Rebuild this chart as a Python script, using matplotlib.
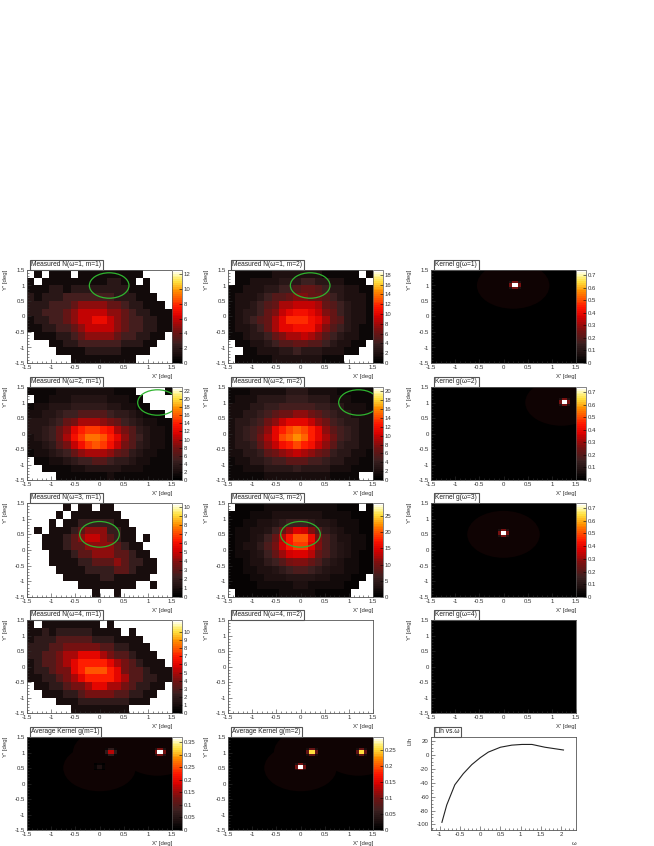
import matplotlib
matplotlib.use("Agg")
import matplotlib.pyplot as plt
from matplotlib.colors import LinearSegmentedColormap
from matplotlib.patches import Circle
from matplotlib.ticker import MultipleLocator
import numpy as np

plt.rcParams['font.family'] = ['Liberation Sans', 'DejaVu Sans']

# coarse counts, top row is y=+1.5, first column x=-1.5
n_1_1 = [
    [0,1,0,1,1,1,0,1,1,1,1,1,1,1,1,1,0,0,0,0],
    [1,0,1,1,1,1,1,1,1,1,1,2,2,1,1,0,1,0,0,0],
    [1,1,1,2,2,1,2,2,2,2,2,2,2,2,1,1,1,0,0,0],
    [2,1,2,2,2,3,3,3,3,3,3,3,2,2,2,1,1,1,0,0],
    [2,2,2,3,3,3,4,5,5,5,5,4,4,3,2,2,1,1,1,0],
    [2,2,3,3,3,4,5,6,6,6,6,5,5,4,3,2,2,1,1,1],
    [1,2,2,3,3,4,5,6,6,7,7,6,5,4,3,3,2,2,1,1],
    [1,1,2,2,3,3,4,5,6,6,6,6,5,4,3,3,2,2,1,1],
    [0,1,1,1,2,2,3,4,5,5,5,5,4,3,3,2,2,1,1,0],
    [0,0,0,1,1,2,2,3,3,3,3,3,3,2,2,2,1,1,0,0],
    [0,0,0,0,1,1,1,1,2,2,2,2,2,1,1,1,1,0,0,0],
    [0,0,0,0,0,0,1,1,1,1,1,1,1,1,1,0,0,0,0,0],
]
n_1_2 = [
    [0,1,1,1,1,1,2,2,2,2,2,2,2,1,1,1,1,1,0,1],
    [0,1,1,2,2,2,2,3,3,3,4,4,3,3,2,2,1,1,1,0],
    [1,1,2,2,2,3,3,4,4,5,6,6,5,4,3,3,2,2,1,1],
    [1,2,2,2,3,4,5,5,6,7,7,6,6,5,4,3,2,2,2,1],
    [1,2,2,3,4,5,6,8,8,9,9,9,8,6,5,4,3,2,2,1],
    [1,2,3,3,4,6,7,9,10,11,11,10,9,7,6,4,3,2,2,1],
    [1,2,3,4,5,6,8,10,12,12,12,11,10,8,6,5,3,2,2,1],
    [1,2,2,3,4,6,8,10,10,11,11,11,9,7,5,4,3,2,1,1],
    [1,1,2,3,3,4,6,7,8,8,9,8,7,5,4,3,2,2,1,1],
    [0,1,1,2,2,3,4,5,5,6,6,5,5,4,3,2,2,1,1,0],
    [0,0,1,1,2,2,2,3,3,4,3,3,3,2,2,2,1,1,0,0],
    [0,1,1,1,1,1,2,2,2,2,2,2,2,1,1,1,0,0,0,0],
]
n_2_1 = [
    [1,1,1,1,2,2,2,2,2,2,2,2,1,1,1,0,0,0,0,1],
    [0,1,1,2,2,2,3,3,3,3,3,2,2,2,1,1,0,0,0,0],
    [1,2,2,3,3,3,4,4,4,4,4,3,3,2,2,1,1,0,0,0],
    [2,2,3,3,4,5,5,6,6,6,6,5,4,4,3,2,1,1,1,0],
    [3,3,3,4,5,7,8,10,10,10,9,8,7,5,4,3,2,2,1,1],
    [3,3,4,5,7,9,12,14,15,15,14,13,10,8,6,4,3,2,2,1],
    [2,3,4,5,7,10,13,15,17,17,16,14,12,9,6,5,3,2,2,1],
    [2,2,3,4,6,8,11,13,15,16,15,13,11,8,6,4,3,2,2,1],
    [1,2,2,3,4,5,7,9,10,10,10,9,7,6,4,3,2,2,1,1],
    [0,1,1,2,2,3,4,5,5,6,6,5,4,4,3,2,2,1,1,1],
    [0,0,1,1,1,1,2,2,3,3,3,3,3,2,2,2,1,1,1,1],
    [0,0,0,0,1,1,1,1,1,1,1,2,1,1,1,1,1,1,1,1],
]
n_2_2 = [
    [1,1,1,2,2,2,2,2,3,3,3,2,2,2,2,1,1,1,1,1],
    [1,2,2,2,3,3,3,3,4,4,4,3,3,3,2,2,2,1,1,1],
    [2,2,2,3,3,4,4,5,5,5,5,5,4,4,3,3,2,2,2,1],
    [2,2,3,3,4,5,6,7,7,8,8,7,6,5,4,3,3,2,2,2],
    [2,3,3,4,5,7,8,10,11,11,11,10,8,7,5,4,3,3,2,2],
    [2,3,4,5,6,8,11,13,14,15,14,13,11,8,6,5,4,3,2,2],
    [2,3,4,5,7,9,11,14,15,16,15,13,11,9,7,5,4,3,2,2],
    [2,3,3,4,6,8,10,12,13,14,13,12,10,8,6,4,3,3,2,2],
    [2,2,3,3,4,6,7,8,9,10,9,8,7,6,4,3,3,2,2,1],
    [1,2,2,3,3,4,5,5,6,6,6,5,5,4,3,3,2,2,1,1],
    [1,1,2,2,2,3,3,3,3,4,3,3,3,3,2,2,2,1,1,1],
    [1,1,1,1,1,2,2,2,2,2,2,2,2,2,1,1,1,1,0,0],
]
n_3_1 = [
    [0,0,0,0,0,1,0,1,1,0,1,1,0,0,0,0,0,0,0,0],
    [0,0,0,0,1,0,1,1,1,1,1,1,1,0,0,0,0,0,0,0],
    [0,0,0,1,0,1,1,2,2,2,2,2,1,1,0,0,0,0,0,0],
    [0,1,0,1,1,1,2,3,4,4,4,2,2,1,1,0,0,0,0,0],
    [0,0,1,1,1,2,3,4,5,5,4,3,2,1,1,0,1,0,0,0],
    [0,0,1,1,1,2,3,3,4,4,4,4,3,2,1,1,0,0,0,0],
    [0,0,0,1,1,1,2,3,3,4,4,4,3,3,2,1,1,0,0,0],
    [0,0,0,1,1,1,1,2,2,3,3,3,4,3,2,2,1,1,0,0],
    [0,0,0,0,1,1,1,1,2,2,2,2,3,3,2,1,1,1,0,0],
    [0,0,0,0,0,1,1,1,1,1,2,2,1,1,1,1,1,0,0,0],
    [0,0,0,0,0,0,0,1,1,1,1,1,1,1,1,0,0,1,0,0],
    [0,0,0,0,0,0,0,0,0,1,0,0,1,0,0,0,0,0,0,0],
]
n_3_2 = [
    [0,1,1,1,1,2,2,2,2,2,2,2,2,2,2,1,1,1,0,1],
    [1,1,1,2,2,2,3,3,3,3,3,3,3,2,2,2,2,1,1,1],
    [1,1,2,2,3,3,4,5,6,6,6,5,4,4,3,2,2,2,1,1],
    [1,2,2,3,3,4,6,9,12,15,14,11,7,5,4,3,2,2,1,1],
    [1,2,2,3,4,6,9,13,17,20,20,16,10,7,5,3,3,2,2,1],
    [1,2,3,3,5,7,10,14,17,19,19,15,11,7,5,4,3,2,2,1],
    [1,2,2,3,4,6,9,12,14,15,15,13,9,7,5,4,3,2,1,1],
    [1,1,2,3,3,5,6,8,10,11,11,9,7,5,4,3,2,2,1,1],
    [1,1,2,2,3,3,4,5,6,7,7,6,5,4,3,3,2,2,1,1],
    [1,1,1,2,2,3,3,3,4,4,4,4,3,3,2,2,2,1,1,0],
    [1,1,1,1,2,2,2,2,2,3,3,2,2,2,2,2,1,1,0,0],
    [0,1,1,1,1,1,1,2,2,2,2,2,1,1,1,1,1,0,0,0],
]
n_4_1 = [
    [1,0,1,1,1,1,1,1,1,1,0,1,0,0,0,0,0,0,0,0],
    [1,1,2,1,2,2,2,2,2,1,1,1,1,0,1,0,0,0,0,0],
    [1,2,2,2,3,3,3,3,3,2,2,2,1,1,1,1,0,0,0,0],
    [2,2,2,3,3,4,4,4,4,4,3,3,2,2,1,1,1,0,0,0],
    [2,2,3,3,4,5,5,6,6,6,5,4,3,3,2,1,1,1,0,0],
    [1,2,3,3,4,5,6,7,7,7,7,6,5,4,3,2,1,1,1,0],
    [1,2,2,3,4,4,6,7,8,8,8,7,6,4,3,3,2,1,1,1],
    [1,1,2,2,3,4,5,6,7,7,7,7,6,5,3,3,2,2,1,1],
    [0,1,1,2,2,3,4,4,5,6,6,5,5,4,3,2,2,1,1,0],
    [0,0,1,1,1,2,2,3,4,4,4,4,3,3,2,2,1,1,0,0],
    [0,0,0,0,1,1,1,2,2,2,2,2,2,2,1,1,1,0,0,0],
    [0,0,0,0,0,0,1,1,1,1,1,1,1,1,0,0,0,0,0,0],
]

# kernel peaks: x, y, height
kern_1 = [(0.2, 1.0, 0.74)]
kern_2 = [(1.2, 1.0, 0.74)]
kern_3 = [(0.0, 0.5, 0.74)]
avg_m1 = [(0.2, 1.0, 0.17), (1.2, 1.0, 0.37), (0.0, 0.5, 0.04)]
avg_m2 = [(0.2, 1.0, 0.25), (1.2, 1.0, 0.25), (0.0, 0.5, 0.29)]
# relative height of the cells around a peak
spot_shape = [[0.1, 0.35, 0.35, 0.1],
              [0.35, 1.0, 1.0, 0.35],
              [0.35, 1.0, 1.0, 0.35],
              [0.1, 0.35, 0.35, 0.1]]

lh_alpha = [-0.95, -0.83, -0.63, -0.42, -0.21, 0, 0.2, 0.5, 0.78, 1.03, 1.28, 1.6, 2.06]
lh_value = [-97, -72, -43, -27, -14, -4, 4, 11, 14, 15, 15, 11, 7]

W, H = 654, 846
cols = [(27, 172), (228, 373), (431, 576)]
rows = [(270, 363), (387, 480), (503, 597), (620, 713), (737, 830)]
GREEN = '#2fb52f'
GRAY = '#555555'
FS = 4.3

root_pal = LinearSegmentedColormap.from_list(
    'root_hot',
    [(0, '#000000'), (0.2, '#3a2020'), (0.36, '#7a1010'), (0.5, '#d80000'),
     (0.6, '#ff1500'), (0.78, '#ff9000'), (0.88, '#ffe040'), (0.95, '#fff8a0'),
     (1, '#ffffff')], N=50)

fig = plt.figure(figsize=(W / 100, H / 100), dpi=100)


def make_ax(col, row):
    l, r = cols[col]
    t, b = rows[row]
    return fig.add_axes([l / W, 1 - b / H, (r - l) / W, (b - t) / H])


def style(ax, title, xlabel="X' [deg]", ylabel="Y' [deg]"):
    ax.tick_params(which='both', direction='in', width=0.4, color='#333333',
                   labelsize=FS, labelcolor='#333333', pad=1.5)
    ax.tick_params(which='major', length=3)
    ax.tick_params(which='minor', length=1.5)
    for s in ax.spines.values():
        s.set_linewidth(0.6)
        s.set_color(GRAY)
    ax.text(1.0, -0.115, xlabel, transform=ax.transAxes, ha='right', va='top',
            fontsize=FS, color='#333333')
    ax.text(-0.145, 1.0, ylabel, transform=ax.transAxes, ha='center', va='top',
            rotation=90, fontsize=FS, color='#333333')
    ax.text(0.03, 1.018, title, transform=ax.transAxes, ha='left', va='bottom',
            fontsize=4.8, color='#222222', zorder=5, clip_on=False,
            bbox=dict(boxstyle='square,pad=0.22', fc='white', ec=GRAY, lw=0.8))


def deg_axes(ax):
    ax.set_xlim(-1.5, 1.5)
    ax.set_ylim(-1.5, 1.5)
    ticks = [-1.5, -1, -0.5, 0, 0.5, 1, 1.5]
    ax.set_xticks(ticks, ['-1.5', '-1', '-0.5', '0', '0.5', '1', '1.5'])
    ax.set_yticks(ticks, ['-1.5', '-1', '-0.5', '0', '0.5', '1', '1.5'])
    ax.xaxis.set_minor_locator(MultipleLocator(0.1))
    ax.yaxis.set_minor_locator(MultipleLocator(0.1))


def add_bar(mesh, col, row, ticks, labels=None):
    l, r = cols[col]
    t, b = rows[row]
    cax = fig.add_axes([r / W, 1 - b / H, 9.5 / W, (b - t) / H])
    cb = fig.colorbar(mesh, cax=cax, ticks=ticks)
    cb.outline.set_linewidth(0.5)
    cb.outline.set_edgecolor(GRAY)
    cax.tick_params(direction='in', length=2.5, width=0.4, labelsize=FS,
                    labelcolor='#333333', pad=1.5)
    cax.set_yticklabels(labels if labels else [f'{v:g}' for v in ticks])


def measured(col, row, grid, vmax, ticks, title, circle=None):
    ax = make_ax(col, row)
    data = np.ma.masked_equal(np.array(grid, dtype=float)[::-1], 0)
    xe = np.linspace(-1.5, 1.5, data.shape[1] + 1)
    ye = np.linspace(-1.5, 1.5, data.shape[0] + 1)
    mesh = ax.pcolormesh(xe, ye, data, cmap=root_pal, vmin=0, vmax=vmax)
    if circle:
        ax.add_patch(Circle(circle, 0.41, fc='none', ec=GREEN, lw=0.9, zorder=4))
    deg_axes(ax)
    style(ax, title)
    add_bar(mesh, col, row, ticks)


def kernel(col, row, peaks, vmax, ticks, title, bar=True):
    ax = make_ax(col, row)
    ax.set_facecolor('black')
    edges = np.linspace(-1.5, 1.5, 51)
    data = np.zeros((50, 50))
    for x, y, h in peaks:
        ax.add_patch(Circle((x, y), 0.75, fc='#0f0303', ec='none', zorder=0.5))
        ix = np.searchsorted(edges, x) - 2
        iy = np.searchsorted(edges, y) - 2
        data[iy:iy + 4, ix:ix + 4] = np.maximum(data[iy:iy + 4, ix:ix + 4],
                                               h * np.array(spot_shape))
    mesh = ax.pcolormesh(edges, edges, np.ma.masked_equal(data, 0), cmap=root_pal,
                         vmin=0, vmax=vmax, zorder=1)
    deg_axes(ax)
    style(ax, title)
    if bar:
        add_bar(mesh, col, row, ticks)


measured(0, 0, n_1_1, 12.6, list(range(0, 13, 2)), 'Measured N(ω=1, m=1)', (0.2, 1.0))
measured(1, 0, n_1_2, 19, list(range(0, 19, 2)), 'Measured N(ω=1, m=2)', (0.2, 1.0))
kernel(2, 0, kern_1, 0.74, [0, .1, .2, .3, .4, .5, .6, .7], 'Kernel g(ω=1)')

measured(0, 1, n_2_1, 23, list(range(0, 23, 2)), 'Measured N(ω=2, m=1)', (1.2, 1.0))
measured(1, 1, n_2_2, 21, list(range(0, 21, 2)), 'Measured N(ω=2, m=2)', (1.2, 1.0))
kernel(2, 1, kern_2, 0.74, [0, .1, .2, .3, .4, .5, .6, .7], 'Kernel g(ω=2)')

measured(0, 2, n_3_1, 10.5, list(range(0, 11)), 'Measured N(ω=3, m=1)', (0.0, 0.5))
measured(1, 2, n_3_2, 29, [0, 5, 10, 15, 20, 25], 'Measured N(ω=3, m=2)', (0.0, 0.5))
kernel(2, 2, kern_3, 0.74, [0, .1, .2, .3, .4, .5, .6, .7], 'Kernel g(ω=3)')

measured(0, 3, n_4_1, 11.5, list(range(0, 11)), 'Measured N(ω=4, m=1)')
ax_empty = make_ax(1, 3)
deg_axes(ax_empty)
style(ax_empty, 'Measured N(ω=4, m=2)')
kernel(2, 3, [], 1, [], 'Kernel g(ω=4)', bar=False)

kernel(0, 4, avg_m1, 0.37, [0, .05, .1, .15, .2, .25, .3, .35], 'Average Kernel g(m=1)')
kernel(1, 4, avg_m2, 0.29, [0, .05, .1, .15, .2, .25], 'Average Kernel g(m=2)')

ax = make_ax(2, 4)
ax.plot(lh_alpha, lh_value, color='#222222', lw=0.8)
ax.set_xlim(-1.22, 2.37)
ax.set_ylim(-108, 25.7)
ax.set_xticks([-1, -0.5, 0, 0.5, 1, 1.5, 2], ['-1', '-0.5', '0', '0.5', '1', '1.5', '2'])
ax.set_yticks([-100, -80, -60, -40, -20, 0, 20], ['-100', '-80', '-60', '-40', '-20', '0', '20'])
ax.xaxis.set_minor_locator(MultipleLocator(0.1))
ax.yaxis.set_minor_locator(MultipleLocator(5))
style(ax, 'Llh vs.ω', xlabel='ω', ylabel='Llh')

fig.savefig('out.png', dpi=100)
